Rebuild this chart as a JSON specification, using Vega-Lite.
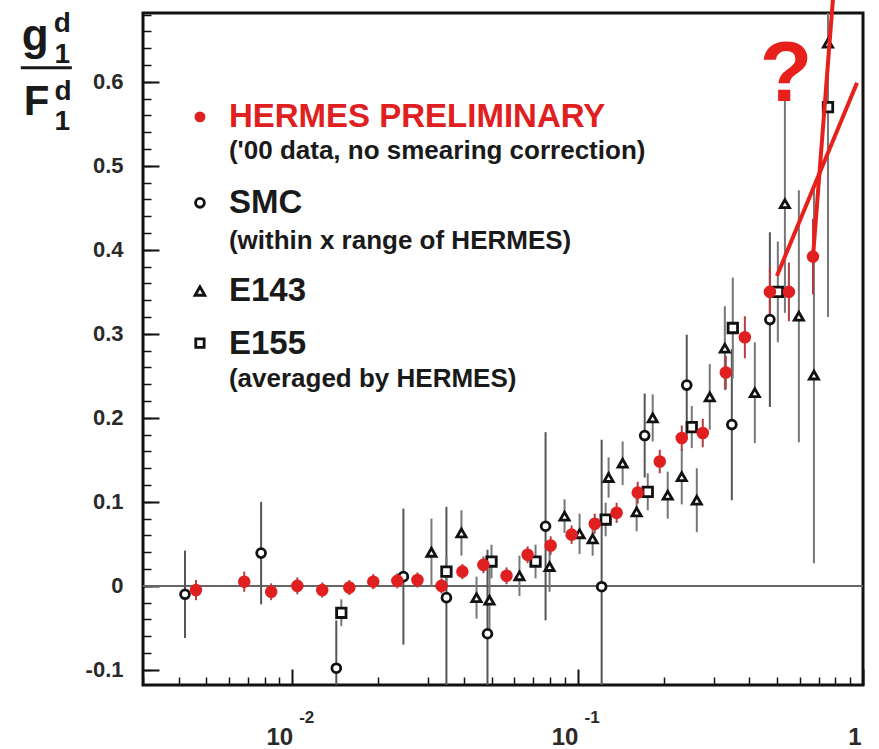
{
  "$schema": "https://vega.github.io/schema/vega-lite/v6.json",
  "width": 720,
  "height": 672,
  "autosize": "none",
  "padding": {"left": 143, "top": 13, "right": 16, "bottom": 64},
  "background": "white",
  "config": {
    "view": {"stroke": "#111", "strokeWidth": 3},
    "axis": {
      "domain": false,
      "grid": false,
      "zindex": 1,
      "labelFont": "Liberation Sans",
      "labelFontWeight": "bold",
      "labelFontSize": 22,
      "labelColor": "#2a2a2a",
      "tickColor": "#111"
    },
    "text": {"font": "Liberation Sans", "fontWeight": "bold", "color": "#1a1a1a"}
  },
  "datasets": {
    "points": [
      {"exp": "SMC", "x": 0.00421, "g": -0.010, "err": 0.052},
      {"exp": "SMC", "x": 0.00778, "g": 0.039, "err": 0.061},
      {"exp": "SMC", "x": 0.01427, "g": -0.098, "err": 0.057},
      {"exp": "SMC", "x": 0.02452, "g": 0.011, "err": 0.081},
      {"exp": "SMC", "x": 0.03470, "g": -0.014, "err": 0.108},
      {"exp": "SMC", "x": 0.04833, "g": -0.057, "err": 0.100},
      {"exp": "SMC", "x": 0.07722, "g": 0.071, "err": 0.112},
      {"exp": "SMC", "x": 0.1214, "g": -0.001, "err": 0.175},
      {"exp": "SMC", "x": 0.1718, "g": 0.179, "err": 0.050},
      {"exp": "SMC", "x": 0.2412, "g": 0.239, "err": 0.060},
      {"exp": "SMC", "x": 0.3470, "g": 0.192, "err": 0.090},
      {"exp": "SMC", "x": 0.4717, "g": 0.317, "err": 0.104},
      {"exp": "E143", "x": 0.03075, "g": 0.040, "err": 0.040},
      {"exp": "E143", "x": 0.03917, "g": 0.063, "err": 0.027},
      {"exp": "E143", "x": 0.04424, "g": -0.014, "err": 0.025},
      {"exp": "E143", "x": 0.04912, "g": -0.017, "err": 0.040},
      {"exp": "E143", "x": 0.06255, "g": 0.012, "err": 0.024},
      {"exp": "E143", "x": 0.07976, "g": 0.023, "err": 0.030},
      {"exp": "E143", "x": 0.08999, "g": 0.083, "err": 0.020},
      {"exp": "E143", "x": 0.1016, "g": 0.062, "err": 0.024},
      {"exp": "E143", "x": 0.1129, "g": 0.056, "err": 0.020},
      {"exp": "E143", "x": 0.1284, "g": 0.129, "err": 0.024},
      {"exp": "E143", "x": 0.1438, "g": 0.146, "err": 0.026},
      {"exp": "E143", "x": 0.1610, "g": 0.088, "err": 0.023},
      {"exp": "E143", "x": 0.1833, "g": 0.200, "err": 0.028},
      {"exp": "E143", "x": 0.2069, "g": 0.108, "err": 0.028},
      {"exp": "E143", "x": 0.2317, "g": 0.130, "err": 0.033},
      {"exp": "E143", "x": 0.2616, "g": 0.102, "err": 0.038},
      {"exp": "E143", "x": 0.2904, "g": 0.225, "err": 0.039},
      {"exp": "E143", "x": 0.3280, "g": 0.283, "err": 0.050},
      {"exp": "E143", "x": 0.4178, "g": 0.230, "err": 0.060},
      {"exp": "E143", "x": 0.5326, "g": 0.455, "err": 0.130},
      {"exp": "E143", "x": 0.5960, "g": 0.321, "err": 0.150},
      {"exp": "E143", "x": 0.6731, "g": 0.251, "err": 0.224},
      {"exp": "E143", "x": 0.7539, "g": 0.646, "err": 0.260},
      {"exp": "E155", "x": 0.01486, "g": -0.032, "err": 0.016},
      {"exp": "E155", "x": 0.03470, "g": 0.017, "err": 0.017},
      {"exp": "E155", "x": 0.04992, "g": 0.029, "err": 0.020},
      {"exp": "E155", "x": 0.07122, "g": 0.029, "err": 0.020},
      {"exp": "E155", "x": 0.1254, "g": 0.079, "err": 0.020},
      {"exp": "E155", "x": 0.1761, "g": 0.112, "err": 0.022},
      {"exp": "E155", "x": 0.2512, "g": 0.189, "err": 0.025},
      {"exp": "E155", "x": 0.3498, "g": 0.307, "err": 0.060},
      {"exp": "E155", "x": 0.5030, "g": 0.350, "err": 0.060},
      {"exp": "E155", "x": 0.7539, "g": 0.570, "err": 0.250},
      {"exp": "HERMES", "x": 0.00460, "g": -0.005, "err": 0.012},
      {"exp": "HERMES", "x": 0.00679, "g": 0.005, "err": 0.012},
      {"exp": "HERMES", "x": 0.00844, "g": -0.007, "err": 0.010},
      {"exp": "HERMES", "x": 0.01042, "g": 0.000, "err": 0.010},
      {"exp": "HERMES", "x": 0.01274, "g": -0.005, "err": 0.009},
      {"exp": "HERMES", "x": 0.01585, "g": -0.002, "err": 0.009},
      {"exp": "HERMES", "x": 0.01923, "g": 0.005, "err": 0.009},
      {"exp": "HERMES", "x": 0.02335, "g": 0.006, "err": 0.009},
      {"exp": "HERMES", "x": 0.02747, "g": 0.007, "err": 0.009},
      {"exp": "HERMES", "x": 0.03334, "g": 0.000, "err": 0.009},
      {"exp": "HERMES", "x": 0.03947, "g": 0.017, "err": 0.009},
      {"exp": "HERMES", "x": 0.04677, "g": 0.025, "err": 0.010},
      {"exp": "HERMES", "x": 0.05636, "g": 0.012, "err": 0.010},
      {"exp": "HERMES", "x": 0.06680, "g": 0.037, "err": 0.010},
      {"exp": "HERMES", "x": 0.08045, "g": 0.048, "err": 0.011},
      {"exp": "HERMES", "x": 0.09528, "g": 0.061, "err": 0.011},
      {"exp": "HERMES", "x": 0.1148, "g": 0.074, "err": 0.012},
      {"exp": "HERMES", "x": 0.1370, "g": 0.087, "err": 0.012},
      {"exp": "HERMES", "x": 0.1624, "g": 0.111, "err": 0.013},
      {"exp": "HERMES", "x": 0.1940, "g": 0.148, "err": 0.014},
      {"exp": "HERMES", "x": 0.2317, "g": 0.176, "err": 0.015},
      {"exp": "HERMES", "x": 0.2745, "g": 0.182, "err": 0.017},
      {"exp": "HERMES", "x": 0.3306, "g": 0.254, "err": 0.020},
      {"exp": "HERMES", "x": 0.3855, "g": 0.296, "err": 0.025},
      {"exp": "HERMES", "x": 0.4717, "g": 0.350, "err": 0.030},
      {"exp": "HERMES", "x": 0.5500, "g": 0.350, "err": 0.035},
      {"exp": "HERMES", "x": 0.6679, "g": 0.392, "err": 0.045}
    ],
    "trends": [
      {"line": "a", "x": 0.4992, "g": 0.369},
      {"line": "a", "x": 0.953, "g": 0.599},
      {"line": "b", "x": 0.668, "g": 0.392},
      {"line": "b", "x": 0.804, "g": 0.745}
    ],
    "one": [{}]
  },
  "resolve": {"axis": {"x": "independent", "y": "independent"}},
  "layer": [
    {
      "data": {"name": "one"},
      "mark": {"type": "rule", "color": "#666", "strokeWidth": 2},
      "encoding": {
        "y": {"datum": 0, "type": "quantitative",
              "scale": {"domain": [-0.118, 0.682], "zero": false, "nice": false},
              "axis": null}
      }
    },
    {
      "data": {"name": "points"},
      "mark": {"type": "errorbar", "thickness": 2, "clip": true},
      "encoding": {
        "x": {"field": "x", "type": "quantitative",
              "scale": {"type": "log", "domain": [0.003, 1], "nice": false},
              "axis": {"orient": "bottom", "title": null, "values": [0.01, 0.1, 1],
                       "tickSize": -16, "tickWidth": 2, "labelPadding": 75,
                       "labelBaseline": "alphabetic", "labelFontSize": 24,
                       "labelOffset": {"condition": {"test": "datum.value < 0.5", "value": -13}, "value": -2},
                       "labelExpr": "datum.value < 0.5 ? '10' : '1'"}},
        "y": {"field": "g", "type": "quantitative",
              "scale": {"domain": [-0.118, 0.682], "zero": false, "nice": false},
              "axis": {"orient": "left", "title": null,
                       "values": [-0.1, 0, 0.1, 0.2, 0.3, 0.4, 0.5, 0.6],
                       "tickSize": -16, "tickWidth": 2, "labelPadding": 36,
                       "labelExpr": "datum.value == 0 ? '0' : replace(format(datum.value, '.1f'), '−', '-')"}},
        "yError": {"field": "err"},
        "color": {"field": "exp", "type": "nominal",
                  "scale": {"domain": ["SMC", "E143", "E155", "HERMES"],
                            "range": ["#555", "#777", "#777", "#b04040"]},
                  "legend": null}
      }
    },
    {
      "data": {"name": "points"},
      "mark": {"type": "point", "filled": true, "strokeWidth": 2.8, "opacity": 1, "clip": true},
      "encoding": {
        "x": {"field": "x", "type": "quantitative",
              "scale": {"type": "log", "domain": [0.003, 1], "nice": false},
              "axis": {"orient": "bottom", "title": null, "labels": false, "tickSize": -8, "tickWidth": 1.5,
                       "values": [0.003, 0.004, 0.005, 0.006, 0.007, 0.008, 0.009,
                                  0.02, 0.03, 0.04, 0.05, 0.06, 0.07, 0.08, 0.09,
                                  0.2, 0.3, 0.4, 0.5, 0.6, 0.7, 0.8, 0.9]}},
        "y": {"field": "g", "type": "quantitative",
              "scale": {"domain": [-0.118, 0.682], "zero": false, "nice": false},
              "axis": {"orient": "left", "title": null, "labels": false, "tickSize": -8, "tickWidth": 1.5,
                       "values": [-0.1, -0.08, -0.06, -0.04, -0.02, 0, 0.02, 0.04, 0.06, 0.08,
                                  0.1, 0.12, 0.14, 0.16, 0.18, 0.2, 0.22, 0.24, 0.26, 0.28,
                                  0.3, 0.32, 0.34, 0.36, 0.38, 0.4, 0.42, 0.44, 0.46, 0.48,
                                  0.5, 0.52, 0.54, 0.56, 0.58, 0.6, 0.62, 0.64, 0.66, 0.68]}},
        "shape": {"field": "exp", "type": "nominal",
                  "scale": {"domain": ["SMC", "E143", "E155", "HERMES"],
                            "range": ["circle", "triangle-up", "square", "circle"]},
                  "legend": null},
        "fill": {"field": "exp", "type": "nominal",
                 "scale": {"domain": ["SMC", "E143", "E155", "HERMES"],
                           "range": ["white", "white", "white", "#e02020"]},
                 "legend": null},
        "stroke": {"field": "exp", "type": "nominal",
                   "scale": {"domain": ["SMC", "E143", "E155", "HERMES"],
                             "range": ["#111", "#111", "#111", "#e02020"]},
                   "legend": null},
        "size": {"field": "exp", "type": "nominal",
                 "scale": {"domain": ["SMC", "E143", "E155", "HERMES"],
                           "range": [78, 95, 70, 70]},
                 "legend": null}
      }
    },
    {
      "data": {"name": "trends"},
      "mark": {"type": "line", "color": "#e8201c", "strokeWidth": 4, "clip": false},
      "encoding": {
        "x": {"field": "x", "type": "quantitative",
              "scale": {"type": "log", "domain": [0.003, 1], "nice": false},
              "axis": {"orient": "bottom", "title": null, "values": [0.01, 0.1],
                       "ticks": false, "tickSize": 0, "labelPadding": 37,
                       "labelBaseline": "alphabetic", "labelFontSize": 17, "labelOffset": 14,
                       "labelExpr": "datum.value < 0.05 ? '-2' : '-1'"}},
        "y": {"field": "g", "type": "quantitative", "axis": null},
        "detail": {"field": "line"}
      }
    },
    {
      "data": {"name": "one"},
      "mark": {"type": "text", "text": "?", "fontSize": 86, "color": "#e8201c", "align": "center", "baseline": "alphabetic"},
      "encoding": {
        "x": {"datum": 0.537, "type": "quantitative", "axis": null},
        "y": {"datum": 0.5774, "type": "quantitative", "axis": null}
      }
    },
    {
      "data": {"name": "one"},
      "mark": {"type": "point", "shape": "circle", "filled": true, "fill": "#e02020", "stroke": "#e02020", "strokeWidth": 2.5, "size": 70, "opacity": 1},
      "encoding": {
        "x": {"datum": 0.00475, "type": "quantitative", "axis": null},
        "y": {"datum": 0.5583, "type": "quantitative", "axis": null}
      }
    },
    {
      "data": {"name": "one"},
      "mark": {"type": "point", "shape": "circle", "filled": true, "fill": "white", "stroke": "#111", "strokeWidth": 2.8, "size": 78, "opacity": 1},
      "encoding": {
        "x": {"datum": 0.00475, "type": "quantitative", "axis": null},
        "y": {"datum": 0.456, "type": "quantitative", "axis": null}
      }
    },
    {
      "data": {"name": "one"},
      "mark": {"type": "point", "shape": "triangle-up", "filled": true, "fill": "white", "stroke": "#111", "strokeWidth": 2.8, "size": 95, "opacity": 1},
      "encoding": {
        "x": {"datum": 0.00475, "type": "quantitative", "axis": null},
        "y": {"datum": 0.351, "type": "quantitative", "axis": null}
      }
    },
    {
      "data": {"name": "one"},
      "mark": {"type": "point", "shape": "square", "filled": true, "fill": "white", "stroke": "#111", "strokeWidth": 2.8, "size": 70, "opacity": 1},
      "encoding": {
        "x": {"datum": 0.00475, "type": "quantitative", "axis": null},
        "y": {"datum": 0.289, "type": "quantitative", "axis": null}
      }
    },
    {
      "data": {"name": "one"},
      "mark": {"type": "text", "text": "HERMES PRELIMINARY", "fontSize": 33, "color": "#e02020", "align": "left", "baseline": "middle"},
      "encoding": {
        "x": {"datum": 0.006, "type": "quantitative", "axis": null},
        "y": {"datum": 0.5583, "type": "quantitative", "axis": null}
      }
    },
    {
      "data": {"name": "one"},
      "mark": {"type": "text", "text": "('00 data, no smearing correction)", "fontSize": 26, "align": "left", "baseline": "middle"},
      "encoding": {
        "x": {"datum": 0.006, "type": "quantitative", "axis": null},
        "y": {"datum": 0.5179, "type": "quantitative", "axis": null}
      }
    },
    {
      "data": {"name": "one"},
      "mark": {"type": "text", "text": "SMC", "fontSize": 33, "align": "left", "baseline": "middle"},
      "encoding": {
        "x": {"datum": 0.006, "type": "quantitative", "axis": null},
        "y": {"datum": 0.456, "type": "quantitative", "axis": null}
      }
    },
    {
      "data": {"name": "one"},
      "mark": {"type": "text", "text": "(within x range of HERMES)", "fontSize": 26, "align": "left", "baseline": "middle"},
      "encoding": {
        "x": {"datum": 0.006, "type": "quantitative", "axis": null},
        "y": {"datum": 0.4107, "type": "quantitative", "axis": null}
      }
    },
    {
      "data": {"name": "one"},
      "mark": {"type": "text", "text": "E143", "fontSize": 33, "align": "left", "baseline": "middle"},
      "encoding": {
        "x": {"datum": 0.006, "type": "quantitative", "axis": null},
        "y": {"datum": 0.3512, "type": "quantitative", "axis": null}
      }
    },
    {
      "data": {"name": "one"},
      "mark": {"type": "text", "text": "E155", "fontSize": 33, "align": "left", "baseline": "middle"},
      "encoding": {
        "x": {"datum": 0.006, "type": "quantitative", "axis": null},
        "y": {"datum": 0.2881, "type": "quantitative", "axis": null}
      }
    },
    {
      "data": {"name": "one"},
      "mark": {"type": "text", "text": "(averaged by HERMES)", "fontSize": 26, "align": "left", "baseline": "middle"},
      "encoding": {
        "x": {"datum": 0.006, "type": "quantitative", "axis": null},
        "y": {"datum": 0.2464, "type": "quantitative", "axis": null}
      }
    },
    {
      "data": {"name": "one"},
      "mark": {"type": "text", "text": "g", "fontSize": 44, "align": "left", "baseline": "alphabetic"},
      "encoding": {
        "x": {"datum": 0.001129, "type": "quantitative", "axis": null},
        "y": {"datum": 0.638, "type": "quantitative", "axis": null}
      }
    },
    {
      "data": {"name": "one"},
      "mark": {"type": "text", "text": "d", "fontSize": 28, "align": "left", "baseline": "alphabetic"},
      "encoding": {
        "x": {"datum": 0.00146, "type": "quantitative", "axis": null},
        "y": {"datum": 0.6595, "type": "quantitative", "axis": null}
      }
    },
    {
      "data": {"name": "one"},
      "mark": {"type": "text", "text": "1", "fontSize": 28, "align": "left", "baseline": "alphabetic"},
      "encoding": {
        "x": {"datum": 0.00147, "type": "quantitative", "axis": null},
        "y": {"datum": 0.6226, "type": "quantitative", "axis": null}
      }
    },
    {
      "data": {"name": "one"},
      "mark": {"type": "rule", "color": "#1a1a1a", "strokeWidth": 3, "clip": false},
      "encoding": {
        "x": {"datum": 0.001119, "type": "quantitative", "axis": null},
        "x2": {"datum": 0.00169},
        "y": {"datum": 0.6167, "type": "quantitative", "axis": null}
      }
    },
    {
      "data": {"name": "one"},
      "mark": {"type": "text", "text": "F", "fontSize": 42, "align": "left", "baseline": "alphabetic"},
      "encoding": {
        "x": {"datum": 0.001147, "type": "quantitative", "axis": null},
        "y": {"datum": 0.5607, "type": "quantitative", "axis": null}
      }
    },
    {
      "data": {"name": "one"},
      "mark": {"type": "text", "text": "d", "fontSize": 28, "align": "left", "baseline": "alphabetic"},
      "encoding": {
        "x": {"datum": 0.00147, "type": "quantitative", "axis": null},
        "y": {"datum": 0.5786, "type": "quantitative", "axis": null}
      }
    },
    {
      "data": {"name": "one"},
      "mark": {"type": "text", "text": "1", "fontSize": 28, "align": "left", "baseline": "alphabetic"},
      "encoding": {
        "x": {"datum": 0.00147, "type": "quantitative", "axis": null},
        "y": {"datum": 0.5429, "type": "quantitative", "axis": null}
      }
    }
  ]
}
